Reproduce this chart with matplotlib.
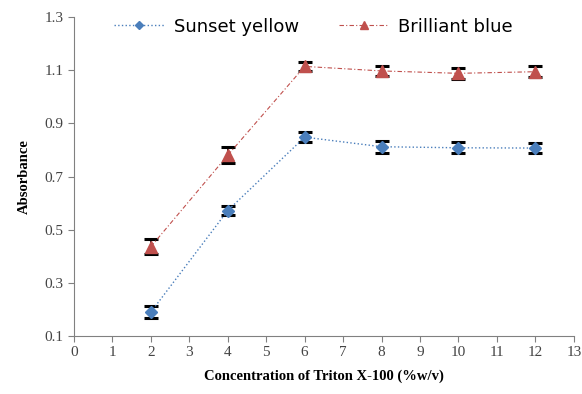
import numpy as np
import matplotlib.pyplot as plt

conc = [2, 4, 6, 8, 10, 12]
sunset = [0.19, 0.572, 0.848, 0.812, 0.808, 0.807]
sunset_err = [0.022, 0.018, 0.02, 0.022, 0.02, 0.02]
blue = [0.436, 0.78, 1.114, 1.097, 1.088, 1.094]
blue_err = [0.028, 0.03, 0.018, 0.018, 0.02, 0.02]
xticks = list(range(0, 14))
yticks = [0.1, 0.3, 0.5, 0.7, 0.9, 1.1, 1.3]

fig = plt.figure(figsize=(5.82, 3.94), dpi=100)
ax = fig.add_axes([0.127, 0.147, 0.859, 0.81])

ax.errorbar(conc, sunset, yerr=sunset_err, fmt="none", ecolor="black",
            elinewidth=1.2, capsize=5, capthick=2.2, zorder=2)
ax.errorbar(conc, blue, yerr=blue_err, fmt="none", ecolor="black",
            elinewidth=1.2, capsize=5, capthick=2.2, zorder=2)
ax.plot(conc, sunset, color="#4a7ebb", linestyle=":", linewidth=1.0,
        marker="D", markersize=6, label="Sunset yellow", zorder=3)
ax.plot(conc, blue, color="#c0504d", linestyle=(0, (4, 2, 1, 2)), linewidth=0.8,
        marker="^", markersize=8, label="Brilliant blue", zorder=3)

ax.set_xlim(0, 13)
ax.set_ylim(0.1, 1.3)
ax.set_xticks(xticks)
ax.set_yticks(yticks)
ax.set_yticklabels([f"{v:.1f}" for v in yticks])
for s in ("top", "right"):
    ax.spines[s].set_visible(False)
for s in ("left", "bottom"):
    ax.spines[s].set_color("#808080")
ax.tick_params(direction="out", length=4, color="#808080", labelsize=11,
               labelcolor="#444444")
for lab in ax.get_xticklabels() + ax.get_yticklabels():
    lab.set_family("Liberation Serif")

ax.set_xlabel("Concentration of Triton X-100 (%w/v)", family="Liberation Serif",
              fontweight="bold", fontsize=10.5, labelpad=7)
ax.set_ylabel("Absorbance", family="Liberation Serif", fontweight="bold",
              fontsize=10.5, labelpad=10)

fig.legend(*ax.get_legend_handles_labels(), loc="upper left",
           bbox_to_anchor=(0.196, 0.955), ncol=2, frameon=False,
           borderpad=0, borderaxespad=0, handlelength=2.8, handletextpad=0.5,
           columnspacing=2.2, markerscale=0.75,
           prop={"family": "DejaVu Sans", "size": 13})

plt.savefig("out.png", dpi=100)
